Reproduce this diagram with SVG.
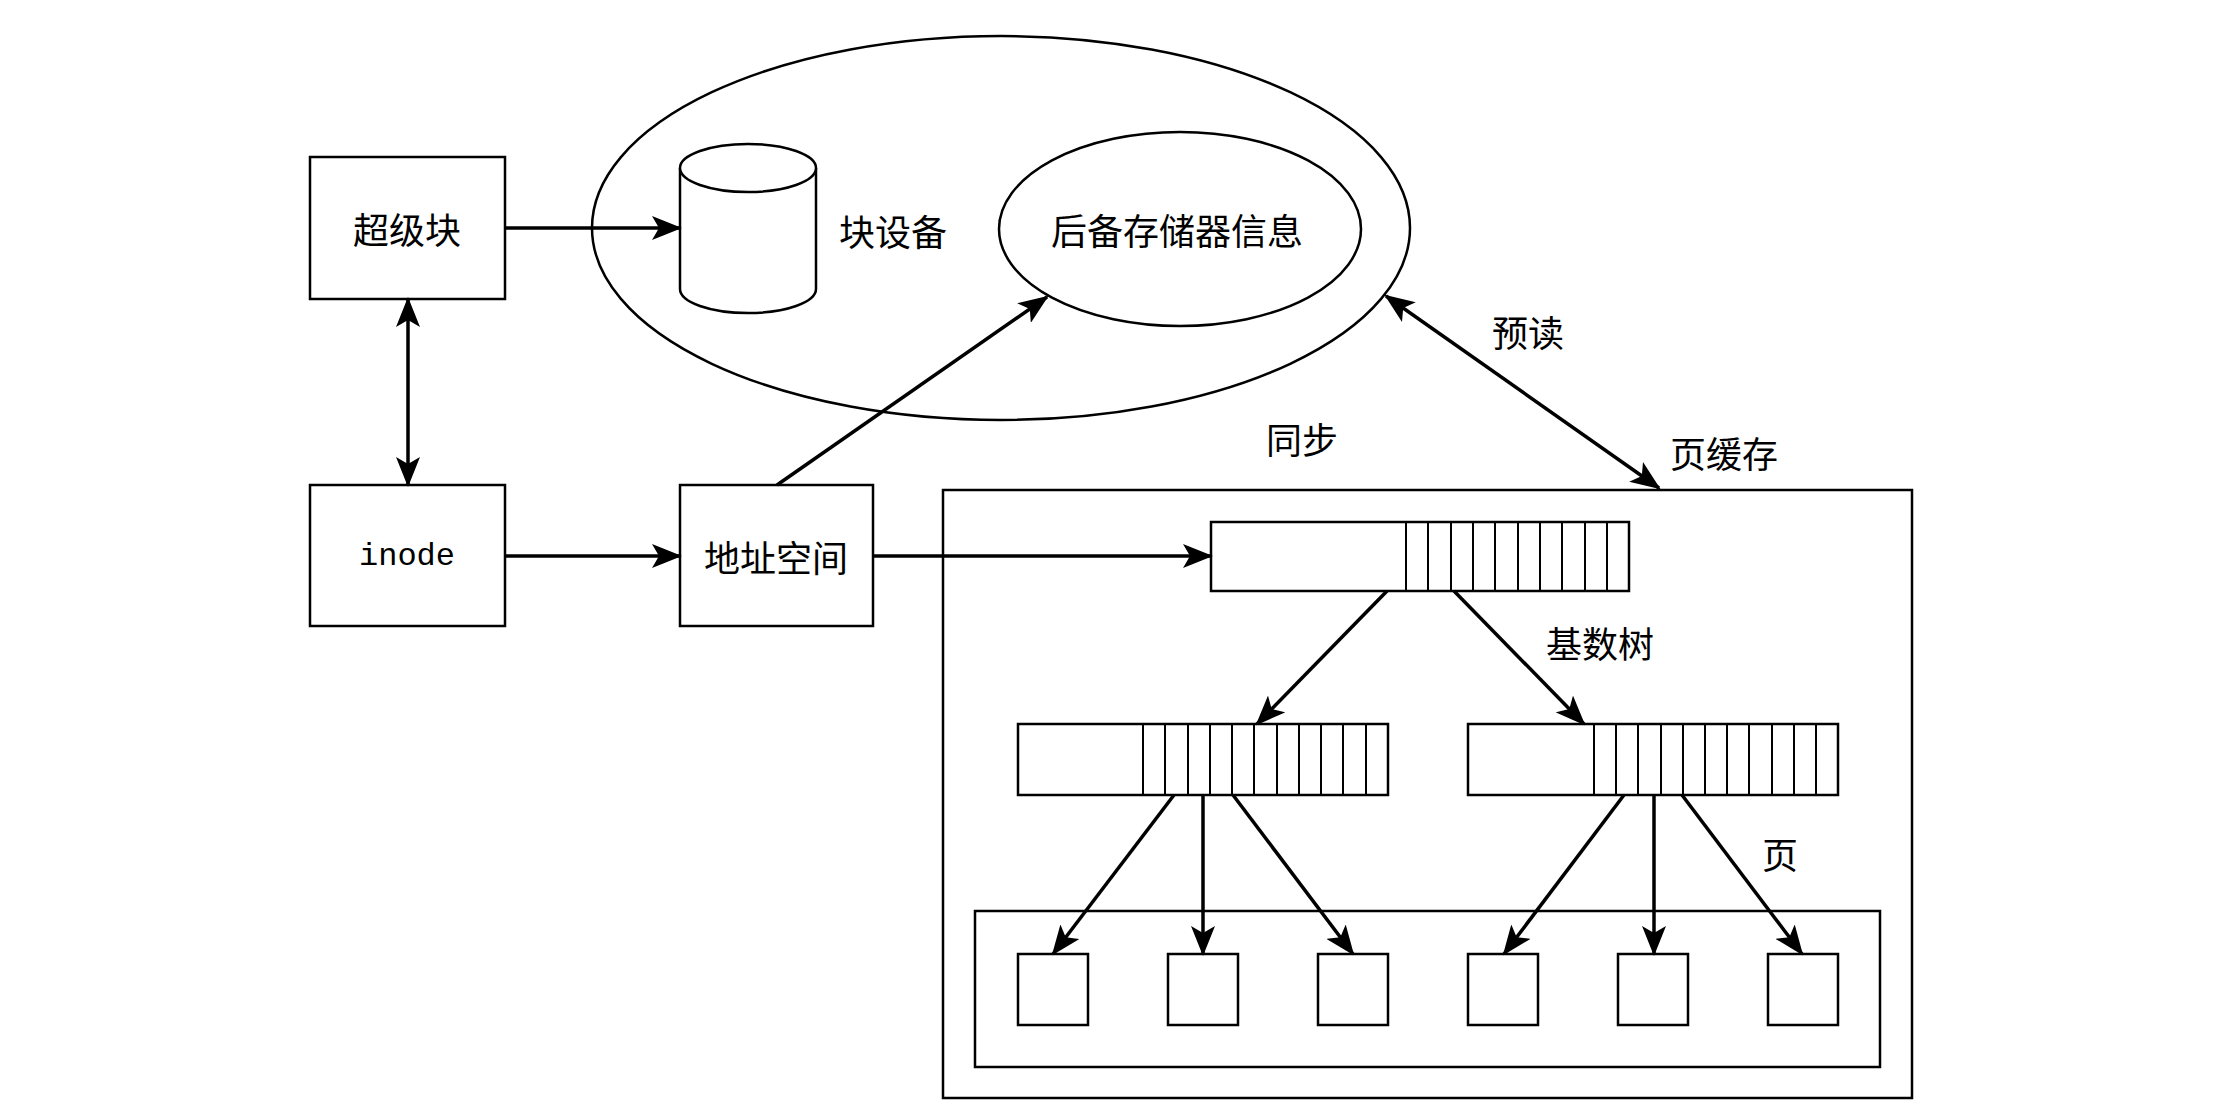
<svg xmlns="http://www.w3.org/2000/svg" width="2229" height="1112" viewBox="0 0 2229 1112">
<style>
.s{fill:#fff;stroke:#000;stroke-width:2.5}
.n{fill:none;stroke:#000;stroke-width:2}
.c{fill:none;stroke:#000;stroke-width:3.5;marker-end:url(#a)}
.d{fill:none;stroke:#000;stroke-width:3.5;marker-end:url(#a);marker-start:url(#a)}
text{font-family:"Noto Sans CJK SC","Liberation Sans",sans-serif;font-size:36px;fill:#000;text-anchor:middle;dominant-baseline:central}
.m{font-family:"Liberation Mono",monospace;font-size:32px}
</style>
<defs>
<marker id="a" viewBox="0 0 30 24" refX="28" refY="12" markerWidth="30" markerHeight="24" markerUnits="userSpaceOnUse" orient="auto-start-reverse">
<path d="M0,0 L30,12 L0,24 L7,12 Z" fill="#000"/>
</marker>
</defs>
<rect width="2229" height="1112" fill="#fff"/>
<g id="blockdev-ellipse"><ellipse class="s" cx="1001" cy="228" rx="409" ry="192"/></g>
<g id="backing"><ellipse class="s" cx="1180" cy="229" rx="181" ry="97"/><text x="1177" y="229">后备存储器信息</text></g>
<g id="cylinder">
<path class="s" d="M680,168 L680,289 A68,24 0 0 0 816,289 L816,168"/>
<ellipse class="s" cx="748" cy="168" rx="68" ry="24"/>
<text x="893" y="230">块设备</text>
</g>
<g id="superblock"><rect class="s" x="310" y="157" width="195" height="142"/><text x="407" y="228">超级块</text></g>
<g id="inode"><rect class="s" x="310" y="485" width="195" height="141"/><text class="m" x="407" y="556">inode</text></g>
<g id="addrspace"><rect class="s" x="680" y="485" width="193" height="141"/><text x="776" y="556">地址空间</text></g>
<g id="pagecache"><rect class="s" x="943" y="490" width="969" height="608"/><text x="1724" y="452">页缓存</text></g>
<g id="pages-frame"><rect class="s" x="975" y="911" width="905" height="156"/></g>
<g id="radix-top">
<rect class="s" x="1211" y="522" width="418" height="69"/>
<path class="n" d="M1406,522V591M1428,522V591M1451,522V591M1473,522V591M1495,522V591M1518,522V591M1540,522V591M1562,522V591M1585,522V591M1607,522V591"/>
</g>
<g id="radix-left">
<rect class="s" x="1018" y="724" width="370" height="71"/>
<path class="n" d="M1143,724V795M1165,724V795M1188,724V795M1210,724V795M1232,724V795M1254,724V795M1277,724V795M1299,724V795M1321,724V795M1343,724V795M1366,724V795"/>
</g>
<g id="radix-right">
<rect class="s" x="1468" y="724" width="370" height="71"/>
<path class="n" d="M1594,724V795M1616,724V795M1638,724V795M1661,724V795M1683,724V795M1705,724V795M1727,724V795M1749,724V795M1772,724V795M1794,724V795M1816,724V795"/>
</g>
<g id="page1"><rect class="s" x="1018" y="954" width="70" height="71"/></g>
<g id="page2"><rect class="s" x="1168" y="954" width="70" height="71"/></g>
<g id="page3"><rect class="s" x="1318" y="954" width="70" height="71"/></g>
<g id="page4"><rect class="s" x="1468" y="954" width="70" height="71"/></g>
<g id="page5"><rect class="s" x="1618" y="954" width="70" height="71"/></g>
<g id="page6"><rect class="s" x="1768" y="954" width="70" height="71"/></g>
<g id="labels">
<text x="1302" y="438">同步</text>
<text x="1528" y="331">预读</text>
<text x="1600" y="642">基数树</text>
<text x="1780" y="853">页</text>
</g>
<g id="connectors">
<path class="c" d="M505,228H680"/>
<path class="d" d="M408,299V485"/>
<path class="c" d="M505,556H680"/>
<path class="c" d="M873,556H1211"/>
<path class="c" d="M777,485L1047,297"/>
<path class="d" d="M1386,296L1659,488"/>
<path class="c" d="M1387,591L1257,724"/>
<path class="c" d="M1454,591L1584,724"/>
<path class="c" d="M1174,795L1053,954"/>
<path class="c" d="M1203,795V954"/>
<path class="c" d="M1233,795L1353,954"/>
<path class="c" d="M1624,795L1504,954"/>
<path class="c" d="M1654,795V954"/>
<path class="c" d="M1682,795L1802,954"/>
</g>
</svg>
